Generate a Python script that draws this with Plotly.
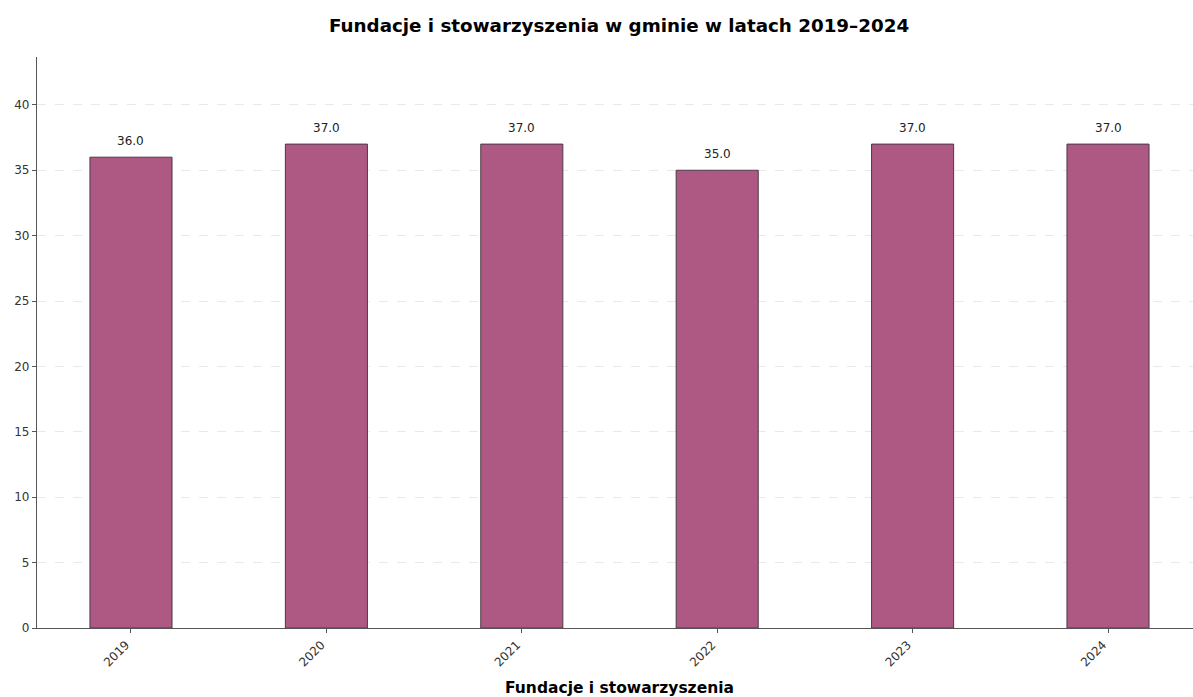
import plotly.graph_objects as go

years = ["2019", "2020", "2021", "2022", "2023", "2024"]
values = [36.0, 37.0, 37.0, 35.0, 37.0, 37.0]
y_ticks = [0, 5, 10, 15, 20, 25, 30, 35, 40]

title = "Fundacje i stowarzyszenia w gminie w latach 2019–2024"
x_title = "Fundacje i stowarzyszenia"

fig = go.Figure()
fig.add_trace(go.Bar(
    x=list(range(len(years))),
    y=values,
    width=0.42,
    marker=dict(color="#ae5884", line=dict(color="#4b3a45", width=1)),
    hoverinfo="skip",
))

for i, v in enumerate(values):
    fig.add_annotation(x=i, y=v, text=f"{v:.1f}", showarrow=False,
                       yshift=16, font=dict(family="DejaVu Sans", size=12, color="#222"))

fig.add_annotation(x=0.5035, y=-60 / 571, xref="paper", yref="paper",
                   xanchor="center", yanchor="middle", showarrow=False,
                   text=x_title,
                   font=dict(family="DejaVu Sans", size=15.5, color="black", weight="bold"))

fig.update_layout(
    width=1193, height=697,
    margin=dict(l=37, r=0, t=57, b=69),
    paper_bgcolor="white", plot_bgcolor="white",
    showlegend=False,
    title=dict(text=title, x=0.5035, xref="paper", xanchor="center", y=1 - 26 / 697, yanchor="middle",
               font=dict(family="DejaVu Sans", size=18.3, color="black", weight="bold")),
    font=dict(family="DejaVu Sans", color="#333"),
)
fig.update_xaxes(
    range=[-0.481, 5.435],
    tickmode="array", tickvals=list(range(len(years))), ticktext=years,
    tickangle=-45, tickfont=dict(size=12, color="#333"),
    ticklabelshift=-5,
    ticks="outside", ticklen=4, tickcolor="#555",
    showline=True, linecolor="#555", linewidth=1.2,
    showgrid=False, zeroline=False,
)
fig.update_yaxes(
    range=[0, 43.66],
    tickmode="array", tickvals=y_ticks,
    tickfont=dict(size=12, color="#333"),
    ticks="outside", ticklen=4, tickcolor="#555",
    showline=True, linecolor="#555", linewidth=1.2,
    showgrid=True, gridcolor="#e9e9e9", griddash="dash", gridwidth=0.8,
    zeroline=False,
)

fig.write_html("out.html", config={"displayModeBar": False},
               post_script="document.body.style.margin='0';document.body.style.overflow='hidden';")
